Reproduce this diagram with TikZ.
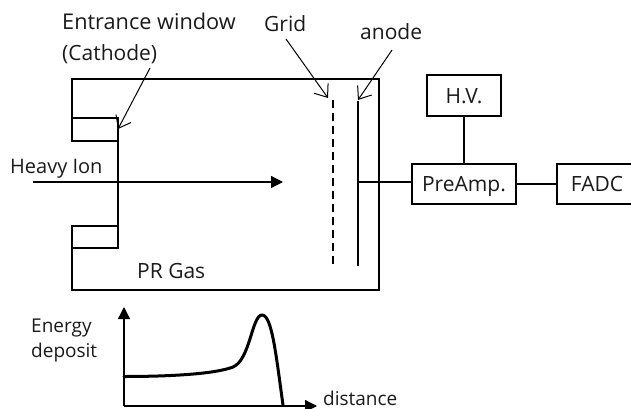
\documentclass[tikz,border=0pt]{standalone}
\usepackage{fontspec}
\setmainfont{Open Sans}
\usetikzlibrary{arrows.meta}
\definecolor{ink}{HTML}{1A1A1A}
\tikzset{
  lbl/.style={inner sep=0pt,anchor=base west,text=ink,font=\fontsize{21}{24}\selectfont},
  smalllbl/.style={lbl,font=\fontsize{19}{22}\selectfont},
  boxed/.style={draw=black,line width=1.6pt,minimum height=40pt,inner sep=0pt,text=ink,text height=15pt,text depth=0pt,font=\fontsize{21}{24}\selectfont},
  wall/.style={draw=black,line width=1.7pt,line join=miter},
  wire/.style={draw=black,line width=1.3pt},
  openarrow/.style={draw=black,line width=1pt,-{Straight Barb[length=11pt,width=17pt,line width=1pt]}},
  solidarrow/.style={draw=black,line width=1.3pt,-{Triangle[length=12pt,width=12pt]}},
}
\begin{document}
\begin{tikzpicture}[x=1pt,y=-1pt]
\useasboundingbox (0,0) rectangle (631,409);
% chamber
\draw[wall] (118,141) -- (72,141) -- (72,118) -- (118,118) -- (118,248) -- (72,248) -- (72,226) -- (118,226);
\draw[wall] (72,118) -- (72,79) -- (379,79) -- (379,290) -- (72,290) -- (72,248);
% electrodes
\coordinate (gridtop) at (333,100);
\coordinate (gridbot) at (333,266);
\coordinate (anodetop) at (358,101);
\coordinate (anodebot) at (358,266);
\coordinate (anodetap) at (358,182);
\coordinate (cathodept) at (118,129);
\draw[wire,dash pattern=on 8pt off 5pt] (gridtop) -- (gridbot);
\draw[wire] (anodetop) -- (anodebot);
% labels
\node[lbl,font=\fontsize{21.7}{24}\selectfont] (entr) at (62,30) {Entrance window};
\node[lbl] (cath) at (62,60.5) {(Cathode)};
\node[lbl] (grid) at (264,31.5) {Grid};
\node[lbl] (anode) at (360,40) {anode};
\node[smalllbl,font=\fontsize{20}{22}\selectfont] (ion) at (10,173) {Heavy Ion};
\node[lbl] (gas) at (137,278) {PR Gas};
\node[smalllbl] (en) at (31,332.7) {Energy};
\node[smalllbl] (dep) at (31,357) {deposit};
\node[smalllbl] (dist) at (323,405.5) {distance};
% boxes
\node[boxed,minimum width=104pt] (pre) at (464,184) {PreAmp.};
\node[boxed,minimum width=74pt,minimum height=41pt] (hv) at (464,95.5) {H.V.};
\node[boxed,minimum width=80pt] (fadc) at (597,184) {FADC};
\draw[wire] (hv) -- (pre);
\draw[wire] (pre.east) -- (fadc.west);
\draw[wire] (anodetap) -- (pre.west |- anodetap);
% pointers
\coordinate (c1) at (150,68);
\coordinate (g1) at (286,39);
\coordinate (g2) at (328,98);
\coordinate (a1) at (392,50);
\coordinate (a2) at (358,100);
\draw[openarrow] (c1) -- (cathodept);
\draw[openarrow] (g1) -- (g2);
\draw[openarrow] (a1) -- (a2);
% ion beam
\coordinate (ionA) at (33,182);
\coordinate (ionB) at (283,182);
\draw[solidarrow] (ionA) -- (ionB);
% graph
\coordinate (org) at (124,406);
\coordinate (yend) at (124,307);
\coordinate (xend) at (317,406);
\draw[solidarrow] (org) -- (yend);
\draw[solidarrow] (org) -- (xend);
\draw[draw=black,line width=3pt,line cap=round] (124,376.5)
  .. controls (170,376.5) and (215,374) .. (233,367)
  .. controls (250,360) and (252,315) .. (262,315)
  .. controls (272,315) and (276,355) .. (283,405);
\end{tikzpicture}
\end{document}
